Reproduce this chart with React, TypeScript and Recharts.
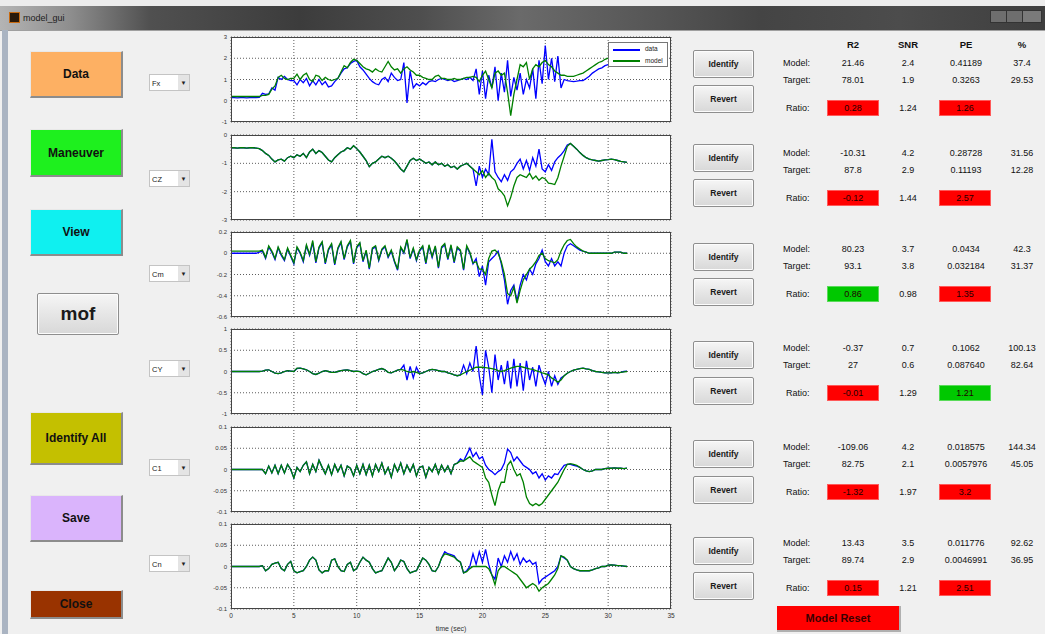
import { LineChart, Line, XAxis, YAxis, CartesianGrid } from 'recharts'

const FONT = '"Liberation Sans", Arial, sans-serif'

// sample grid (sec)
const step = 0.25
const time = Array.from({ length: 127 }, (_, i) => i * step)
const xTicks = [0, 5, 10, 15, 20, 25, 30, 35]

const channels = ['Fx', 'CZ', 'Cm', 'CY', 'C1', 'Cn']

const fxData = [
  0.15, 0.15, 0.14, 0.15, 0.15, 0.14, 0.15, 0.15,
  0.15, 0.16, 0.35, 0.3, 0.32, 0.6, 0.5, 1.1,
  1.0, 1.15, 1.0, 0.95, 0.95, 0.75, 1.0, 0.85,
  1.05, 0.7, 0.95, 0.75, 1.0, 0.75, 0.9, 0.65,
  0.7, 0.9, 1.05, 1.3, 1.5, 1.55, 1.75, 1.85,
  1.9, 1.6, 1.45, 1.25, 1.05, 0.9, 0.8, 0.75,
  1.0, 1.1, 0.9, 1.3, 1.1, 0.95, 1.0, 1.8,
  -0.1, 1.4, 0.6, 0.8, 0.7, 0.85, 0.75, 0.9,
  0.95, 0.9, 1.0, 1.05, 1.0, 0.95, 1.0, 0.9,
  0.95, 1.0, 1.05, 1.0, 1.1, 0.95, 1.5, 0.3,
  1.4, 0.1, 1.2, 0.6, 1.6, 0.0, 1.3, 0.4,
  1.9, 0.2, 1.1, 0.5, 1.3, 0.3, 1.0, 0.6,
  1.5, 0.1, 1.9, 0.8, 2.6, 1.0, 2.0, 0.9,
  2.1, 0.6, 1.0, 0.95, 0.92, 0.9, 0.92, 0.95,
  0.95, 1.05, 1.15, 1.3, 1.4, 1.5, 1.55, 1.65,
  1.7, 1.75, 1.75, 1.7, 1.7, 1.72, 1.74,
]
const fxModel = [
  0.2, 0.2, 0.2, 0.2, 0.2, 0.2, 0.2, 0.2,
  0.2, 0.2, 0.25, 0.25, 0.3, 0.55, 0.7, 1.1,
  1.2, 1.05, 1.0, 1.05, 1.05, 1.25, 1.0, 1.2,
  1.3, 1.0, 0.9, 1.2, 1.15, 0.95, 1.1, 1.0,
  0.95, 1.0, 1.05, 1.35, 1.65, 1.55, 1.8, 1.95,
  1.9, 1.75, 1.6, 1.5, 1.45, 1.35, 1.5, 1.4,
  1.35, 1.6, 1.85, 1.6, 1.45, 1.5, 1.3, 1.5,
  1.6, 1.45, 1.35, 1.2, 1.2, 1.1, 1.05, 1.0,
  1.0, 1.15, 1.2, 1.05, 1.05, 1.0, 1.0, 1.05,
  1.0, 1.0, 1.05, 1.1, 1.1, 1.15, 1.1, 0.9,
  1.2, 1.4, 1.0, 0.6, 1.3, 1.4, 1.2, 1.3,
  0.4, -0.7, 0.3, 1.0, 1.7, 1.6, 1.8, 1.0,
  1.5, 1.7, 1.6, 1.8, 1.9, 1.7, 1.6, 1.4,
  1.3, 1.2, 1.2, 1.15, 1.15, 1.15, 1.2, 1.25,
  1.3, 1.4, 1.5, 1.6, 1.7, 1.8, 1.85, 1.95,
  2.0, 2.02, 2.05, 2.07, 2.08, 2.1, 2.1,
]

const czData = [
  -0.45, -0.45, -0.46, -0.45, -0.45, -0.46, -0.45, -0.45,
  -0.46, -0.48, -0.55, -0.65, -0.72, -0.85, -0.95, -0.88,
  -0.85, -0.92, -0.8, -0.75, -0.8, -0.7, -0.75, -0.65,
  -0.8, -0.6, -0.5, -0.65, -0.55, -0.62, -0.75, -0.88,
  -0.95, -0.8, -0.7, -0.6, -0.55, -0.45, -0.5, -0.38,
  -0.48, -0.6, -0.75, -0.9, -1.12, -1.0, -0.95, -0.85,
  -0.75, -0.8, -0.75, -0.82, -0.92, -1.05, -1.2, -1.3,
  -1.1, -0.9, -0.82, -0.9, -0.85, -0.92, -1.0, -0.95,
  -1.05, -0.95, -1.05, -1.0, -1.1, -1.05, -1.15, -1.1,
  -1.2, -1.1, -1.05, -1.0, -1.1, -1.2, -1.8, -1.1,
  -1.5, -1.2, -1.4, -0.15, -1.3, -1.5, -1.65, -1.4,
  -1.6, -1.3, -1.2, -1.0, -0.85, -1.2, -0.9, -1.25,
  -0.8, -1.1, -0.5, -1.2, -1.3, -1.05, -1.25, -0.95,
  -0.8, -0.7, -0.55, -0.35, -0.3, -0.4, -0.5, -0.62,
  -0.72, -0.8, -0.85, -0.88, -0.9, -0.92, -0.9, -0.88,
  -0.87, -0.85, -0.87, -0.9, -0.93, -0.95, -0.97,
]
const czModel = [
  -0.45, -0.45, -0.46, -0.45, -0.45, -0.46, -0.45, -0.45,
  -0.46, -0.48, -0.55, -0.65, -0.72, -0.85, -0.95, -0.88,
  -0.85, -0.92, -0.8, -0.75, -0.8, -0.7, -0.75, -0.65,
  -0.8, -0.6, -0.5, -0.65, -0.55, -0.62, -0.75, -0.88,
  -0.95, -0.8, -0.7, -0.6, -0.55, -0.45, -0.5, -0.38,
  -0.48, -0.6, -0.75, -0.9, -1.12, -1.0, -0.95, -0.85,
  -0.75, -0.8, -0.75, -0.82, -0.92, -1.05, -1.2, -1.3,
  -1.1, -0.9, -0.82, -0.9, -0.85, -0.92, -1.0, -0.95,
  -1.05, -0.95, -1.05, -1.0, -1.1, -1.05, -1.15, -1.1,
  -1.2, -1.1, -1.05, -1.0, -1.1, -1.2, -1.3, -1.4,
  -1.25, -1.5, -1.35, -1.5, -1.6, -1.9, -2.0, -2.15,
  -2.5, -2.2, -1.8, -1.5, -1.4, -1.45, -1.5, -1.35,
  -1.55, -1.45, -1.6, -1.5, -1.55, -1.7, -1.72, -1.75,
  -1.5, -1.1, -0.75, -0.4, -0.3, -0.4, -0.5, -0.62,
  -0.72, -0.8, -0.85, -0.88, -0.9, -0.92, -0.9, -0.88,
  -0.87, -0.85, -0.87, -0.9, -0.93, -0.95, -0.97,
]

const cmData = [
  0.0, 0.0, 0.0, 0.0, 0.0, 0.0, 0.0, 0.0,
  0.0, 0.01, 0.02, -0.05, 0.06, 0.01, -0.06, 0.05,
  -0.02, -0.07, 0.04, -0.03, -0.1, 0.05, 0.0, -0.08,
  0.07, -0.02, 0.1, -0.09, 0.05, 0.1, -0.1, 0.03,
  0.08, -0.11, 0.04, 0.1, -0.06, 0.06, 0.11, -0.1,
  0.05, 0.09, -0.08, 0.02, -0.15, 0.04, 0.06, -0.07,
  0.03, 0.06, -0.04, 0.02, -0.08, -0.16, 0.05, 0.0,
  0.12, -0.05, 0.04, -0.07, 0.02, 0.06, -0.1, 0.07,
  -0.04, 0.06, -0.14, 0.05, 0.08, -0.06, 0.07, -0.09,
  0.05, 0.02, -0.16, 0.06, 0.0, -0.1, -0.05, -0.22,
  -0.12, -0.3, -0.08, -0.05, -0.02, 0.02, -0.1, -0.25,
  -0.48, -0.35, -0.3, -0.45, -0.3, -0.2, -0.25, -0.15,
  -0.2, -0.1, -0.05, 0.03, -0.08, -0.12, -0.05, -0.12,
  -0.08, -0.12, 0.0, 0.07, 0.09, 0.07, 0.05, 0.03,
  0.02, 0.01, 0.0, 0.0, 0.0, 0.0, 0.0, 0.0,
  0.0, 0.0, 0.01, 0.01, 0.01, 0.0, 0.0,
]
const cmModel = [
  0.02, 0.02, 0.02, 0.02, 0.02, 0.02, 0.02, 0.02,
  0.02, 0.02, 0.03, -0.04, 0.07, 0.02, -0.05, 0.06,
  -0.01, -0.06, 0.05, -0.02, -0.09, 0.06, 0.01, -0.07,
  0.08, -0.01, 0.12, -0.08, 0.06, 0.11, -0.09, 0.04,
  0.09, -0.1, 0.05, 0.11, -0.05, 0.07, 0.12, -0.09,
  0.06, 0.1, -0.07, 0.03, -0.14, 0.05, 0.07, -0.06,
  0.04, 0.07, -0.03, 0.03, -0.07, -0.15, 0.06, 0.01,
  0.13, -0.04, 0.05, -0.06, 0.03, 0.07, -0.09, 0.08,
  -0.03, 0.07, -0.13, 0.06, 0.09, -0.05, 0.08, -0.08,
  0.06, 0.03, -0.15, 0.07, 0.01, -0.09, -0.08, -0.15,
  -0.15, -0.2, -0.05, 0.02, 0.03, 0.0, -0.08, -0.2,
  -0.38, -0.4, -0.32, -0.47, -0.35, -0.25, -0.2, -0.15,
  -0.12, -0.08, -0.02, 0.0, -0.05, -0.07, -0.08, -0.09,
  -0.06, 0.02, 0.08, 0.12, 0.13, 0.09, 0.06, 0.04,
  0.02, 0.01, 0.0, 0.0, 0.0, 0.0, 0.0, 0.0,
  0.0, 0.0, 0.01, 0.01, 0.01, 0.0, 0.0,
]

const cyData = [
  0.0, 0.0, 0.0, 0.0, 0.0, 0.0, 0.0, 0.0,
  0.0, 0.0, 0.01, 0.03, 0.04, 0.0, -0.04, -0.05,
  -0.03, 0.0, 0.02, 0.01, 0.0, 0.07, 0.08, 0.06,
  0.04, 0.0, -0.05, -0.07, -0.04, 0.0, 0.02, 0.0,
  -0.02, -0.02, 0.0, 0.02, 0.03, 0.04, 0.02, 0.0,
  0.01, 0.0, -0.05, -0.08, -0.04, 0.0, 0.02, 0.05,
  0.07, 0.04, -0.02, -0.03, 0.0, 0.03, 0.05, 0.15,
  -0.2, 0.12, -0.15, 0.1, -0.05, -0.03, 0.0, 0.03,
  0.05, 0.04, 0.02, 0.0, 0.0, -0.03, -0.05, -0.08,
  -0.1, -0.08, 0.15, -0.05, 0.2, 0.0, 0.6, -0.1,
  -0.55, 0.5, 0.1, -0.5, 0.4, -0.2, 0.15, -0.3,
  0.25, -0.4, 0.3, -0.35, 0.2, -0.45, 0.25, -0.2,
  0.1, -0.35, 0.15, -0.1, -0.3, 0.0, -0.35, -0.1,
  -0.3, -0.15, -0.1, -0.04, 0.0, 0.03, 0.05, 0.07,
  0.08, 0.06, 0.05, 0.02, 0.0, -0.01, -0.02, -0.03,
  -0.03, -0.03, -0.02, -0.03, -0.02, 0.0, 0.01,
]
const cyModel = [
  0.0, 0.0, 0.0, 0.0, 0.0, 0.0, 0.0, 0.0,
  0.0, 0.0, 0.01, 0.03, 0.04, 0.0, -0.04, -0.05,
  -0.03, 0.0, 0.02, 0.01, 0.0, 0.08, 0.08, 0.06,
  0.04, 0.0, -0.05, -0.07, -0.04, 0.0, 0.02, 0.0,
  -0.02, -0.02, 0.0, 0.02, 0.03, 0.04, 0.02, 0.0,
  0.01, 0.0, -0.05, -0.08, -0.04, 0.0, 0.02, 0.05,
  0.07, 0.04, -0.02, -0.03, 0.0, 0.03, 0.05, 0.03,
  0.0, -0.02, 0.0, -0.02, -0.05, -0.03, 0.0, 0.03,
  0.05, 0.04, 0.02, 0.0, 0.0, -0.03, -0.05, -0.08,
  -0.1, -0.08, -0.04, 0.0, 0.03, 0.07, 0.1, 0.1,
  0.1, 0.09, 0.08, 0.07, 0.05, 0.02, 0.0, 0.02,
  0.05, 0.08, 0.1, 0.12, 0.12, 0.1, 0.08, 0.06,
  0.05, 0.02, 0.0, -0.03, -0.05, -0.08, -0.15, -0.2,
  -0.25, -0.2, -0.1, -0.04, 0.0, 0.03, 0.05, 0.07,
  0.08, 0.06, 0.05, 0.02, 0.0, -0.01, -0.02, -0.03,
  -0.03, -0.03, -0.02, -0.03, -0.02, -0.01, 0.0,
]

const c1Data = [
  0.0, 0.0, 0.0, 0.0, 0.0, 0.0, 0.0, 0.0,
  0.0, 0.0, 0.0, -0.01, 0.008, -0.008, 0.01, -0.01,
  0.01, -0.008, 0.012, 0.0, -0.02, 0.005, -0.005, 0.01,
  0.018, -0.01, 0.012, -0.005, 0.022, 0.005, -0.01, 0.01,
  -0.012, 0.012, -0.005, 0.01, -0.015, 0.008, 0.003, -0.015,
  0.01, -0.01, 0.012, -0.012, 0.01, -0.015, 0.012, -0.005,
  0.015, -0.01, 0.005, -0.018, 0.012, -0.005, 0.015, -0.01,
  0.01, -0.005, 0.012, -0.015, 0.005, 0.008, -0.018, 0.005,
  -0.005, 0.012, -0.01, 0.01, -0.005, 0.008, -0.01, 0.012,
  0.015, 0.025, 0.02, 0.035, 0.05, 0.03, 0.04, 0.025,
  0.03, 0.01, 0.0, -0.005, -0.012, -0.005, 0.0, 0.015,
  0.048, 0.04, 0.02, 0.03, 0.02, 0.01, 0.005, 0.0,
  -0.01, -0.005, -0.02, -0.01, -0.025, -0.015, -0.02, -0.01,
  -0.012, 0.0, 0.01, 0.012, 0.012, 0.01, 0.008, 0.005,
  0.0, -0.003, -0.005, -0.003, 0.0, 0.0, 0.0, 0.002,
  0.003, 0.003, 0.004, 0.003, 0.003, 0.002, 0.003,
]
const c1Model = [
  0.0, 0.0, 0.0, 0.0, 0.0, 0.0, 0.0, 0.0,
  0.0, 0.0, 0.0, -0.01, 0.008, -0.008, 0.01, -0.01,
  0.01, -0.008, 0.012, 0.0, -0.02, 0.005, -0.005, 0.01,
  0.018, -0.01, 0.012, -0.005, 0.022, 0.005, -0.01, 0.01,
  -0.012, 0.012, -0.005, 0.01, -0.015, 0.008, 0.003, -0.015,
  0.01, -0.01, 0.012, -0.012, 0.01, -0.015, 0.012, -0.005,
  0.015, -0.01, 0.005, -0.018, 0.012, -0.005, 0.015, -0.01,
  0.01, -0.005, 0.012, -0.015, 0.005, 0.008, -0.018, 0.005,
  -0.005, 0.012, -0.01, 0.01, -0.005, 0.008, -0.01, 0.012,
  0.015, 0.02, 0.02, 0.025, 0.03, 0.02, 0.015, 0.01,
  0.005, -0.02, -0.03, -0.06, -0.085, -0.05, -0.03, -0.03,
  0.01, 0.02, 0.0, -0.015, -0.01, -0.03, -0.065, -0.08,
  -0.085, -0.08, -0.085, -0.08, -0.07, -0.06, -0.05, -0.04,
  -0.03, -0.015, 0.0, 0.012, 0.014, 0.012, 0.01, 0.005,
  0.0, -0.003, -0.005, -0.003, 0.0, 0.0, 0.0, 0.002,
  0.003, 0.003, 0.004, 0.003, 0.003, 0.002, 0.003,
]

const cnData = [
  0.0, 0.0, 0.0, 0.0, 0.0, 0.0, 0.0, 0.0,
  0.0, 0.0, 0.002, -0.01, -0.005, 0.005, 0.008, 0.01,
  -0.005, -0.01, 0.005, 0.012, -0.01, -0.015, -0.012, -0.01,
  0.0, 0.015, 0.022, 0.015, -0.008, -0.015, -0.01, -0.01,
  0.015, 0.018, 0.0, -0.01, -0.012, 0.005, 0.01, -0.01,
  -0.005, 0.01, 0.022, 0.015, 0.01, -0.005, -0.015, -0.012,
  -0.01, 0.005, 0.02, 0.01, -0.01, 0.0, 0.015, 0.012,
  -0.005, -0.015, -0.012, -0.01, 0.005, 0.02, 0.015, 0.005,
  -0.01, -0.012, 0.0, 0.02, 0.035, 0.03, 0.028, 0.025,
  0.015, 0.01, -0.015, -0.01, 0.0, 0.03, 0.005, 0.035,
  0.01, 0.04, 0.005, -0.02, -0.03, 0.02, 0.0, 0.025,
  0.01, 0.035, 0.015, 0.03, 0.005, 0.02, 0.01, 0.015,
  0.005, 0.01, -0.04, -0.03, -0.025, -0.02, -0.015, -0.01,
  0.0, 0.025, 0.02, 0.015, 0.0, -0.005, -0.008, -0.01,
  -0.01, -0.01, -0.01, -0.008, -0.005, -0.003, 0.0, 0.0,
  0.003, 0.004, 0.003, 0.002, 0.002, 0.001, 0.0,
]
const cnModel = [
  0.0, 0.0, 0.0, 0.0, 0.0, 0.0, 0.0, 0.0,
  0.0, 0.0, 0.002, -0.01, -0.005, 0.005, 0.008, 0.01,
  -0.005, -0.01, 0.005, 0.012, -0.01, -0.015, -0.012, -0.01,
  0.0, 0.015, 0.022, 0.015, -0.008, -0.015, -0.01, -0.01,
  0.015, 0.018, 0.0, -0.01, -0.012, 0.005, 0.01, -0.01,
  -0.005, 0.01, 0.022, 0.015, 0.01, -0.005, -0.015, -0.012,
  -0.01, 0.005, 0.02, 0.01, -0.01, 0.0, 0.015, 0.012,
  -0.005, -0.015, -0.012, -0.01, 0.005, 0.02, 0.015, 0.005,
  -0.01, -0.012, 0.0, 0.02, 0.03, 0.028, 0.025, 0.022,
  0.015, 0.01, -0.015, -0.012, -0.005, 0.0, 0.0, 0.0,
  0.0, 0.0, -0.005, -0.02, -0.043, -0.01, 0.0, 0.0,
  -0.005, -0.01, -0.015, -0.02, -0.03, -0.04, -0.05, -0.045,
  -0.04, -0.045, -0.058, -0.05, -0.045, -0.04, -0.03, -0.02,
  -0.005, 0.025, 0.022, 0.015, 0.0, -0.005, -0.008, -0.01,
  -0.01, -0.01, -0.01, -0.008, -0.005, -0.003, 0.0, 0.0,
  0.003, 0.004, 0.003, 0.002, 0.002, 0.001, 0.0,
]

const dataSeries = [fxData, czData, cmData, cyData, c1Data, cnData]
const modelSeries = [fxModel, czModel, cmModel, cyModel, c1Model, cnModel]

const yDomains = [[-1, 3], [-3, 0], [-0.6, 0.2], [-1, 1], [-0.1, 0.1], [-0.1, 0.1]]
const yTicks = [
  [-1, 0, 1, 2, 3],
  [-3, -2, -1, 0],
  [-0.6, -0.4, -0.2, 0, 0.2],
  [-1, -0.5, 0, 0.5, 1],
  [-0.1, -0.05, 0, 0.05, 0.1],
  [-0.1, -0.05, 0, 0.05, 0.1],
]

// fit statistics table
const statHeaders = ['R2', 'SNR', 'PE', '%']
const modelR2 = ['21.46', '-10.31', '80.23', '-0.37', '-109.06', '13.43']
const modelSNR = ['2.4', '4.2', '3.7', '0.7', '4.2', '3.5']
const modelPE = ['0.41189', '0.28728', '0.0434', '0.1062', '0.018575', '0.011776']
const modelPct = ['37.4', '31.56', '42.3', '100.13', '144.34', '92.62']
const targetR2 = ['78.01', '87.8', '93.1', '27', '82.75', '89.74']
const targetSNR = ['1.9', '2.9', '3.8', '0.6', '2.1', '2.9']
const targetPE = ['0.3263', '0.11193', '0.032184', '0.087640', '0.0057976', '0.0046991']
const targetPct = ['29.53', '12.28', '31.37', '82.64', '45.05', '36.95']
const ratioR2 = ['0.28', '-0.12', '0.86', '-0.01', '-1.32', '0.15']
const ratioSNR = ['1.24', '1.44', '0.98', '1.29', '1.97', '1.21']
const ratioPE = ['1.26', '2.57', '1.35', '1.21', '3.2', '2.51']
const r2Pass = [false, false, true, false, false, false]
const pePass = [false, false, false, true, false, false]

// layout (px)
const plotTops = [37, 135, 232, 329, 427, 524]
const PLOT_H = 85
const selectTops = [74, 170, 265, 360, 459, 555]
const identifyTops = [50, 144, 243, 341, 440, 537]
const revertTops = [85, 179, 278, 377, 476, 572]
const statTops = [63, 153, 249, 348, 447, 543]
const statCols = [853, 908, 966, 1022]

const leftButtons = [
  { label: 'Data', bg: '#fdb063', top: 51, h: 47 },
  { label: 'Maneuver', bg: '#1ef01e', top: 129, h: 48 },
  { label: 'View', bg: '#0ff0f0', top: 209, h: 47 },
  { label: 'Identify All', bg: '#c4c000', top: 412, h: 53 },
  { label: 'Save', bg: '#dab4fc', top: 495, h: 47 },
  { label: 'Close', bg: '#993300', top: 590, h: 29 },
]

function Txt({ x, y, children, align = 'center', size = 9, bold = false, color = '#111' }: any) {
  const tx = align === 'center' ? '-50%' : align === 'right' ? '-100%' : '0'
  return (
    <div
      style={{
        position: 'absolute',
        left: x,
        top: y,
        transform: `translate(${tx}, -50%)`,
        fontSize: size,
        fontWeight: bold ? 700 : 400,
        color,
        whiteSpace: 'nowrap',
        lineHeight: 1,
      }}
    >
      {children}
    </div>
  )
}

function GrayButton({ left, top, w, h, label, size = 8.5 }: any) {
  return (
    <div
      style={{
        position: 'absolute',
        left,
        top,
        width: w,
        height: h,
        boxSizing: 'border-box',
        border: '1px solid #8e8e8e',
        borderRadius: 2,
        background: 'linear-gradient(#f6f6f6, #e6e6e6 50%, #d8d8d8)',
        boxShadow: 'inset 0 0 0 1px #fcfcfc',
        display: 'flex',
        alignItems: 'center',
        justifyContent: 'center',
        fontSize: size,
        fontWeight: 700,
        color: '#1a1a1a',
      }}
    >
      {label}
    </div>
  )
}

function Plot({ idx }: { idx: number }) {
  const rows = time.map((t, i) => ({ t, data: dataSeries[idx][i], model: modelSeries[idx][i] }))
  const last = idx === 5
  const mt = 5
  const xh = last ? 16 : 6
  const w = 482
  const h = PLOT_H + mt + xh
  return (
    <div style={{ position: 'absolute', left: 200, top: plotTops[idx] - mt, width: w, height: h }}>
      <div
        style={{
          position: 'absolute',
          left: 31,
          top: mt,
          width: 440,
          height: PLOT_H,
          background: '#fff',
        }}
      />
      <LineChart
        width={w}
        height={h}
        data={rows}
        margin={{ top: mt, right: w - 471, bottom: 0, left: 0 }}
        style={{ position: 'absolute', left: 0, top: 0 }}
      >
        <CartesianGrid stroke="#333" strokeDasharray="1 2" strokeWidth={0.8} />
        <XAxis
          dataKey="t"
          type="number"
          domain={[0, 35]}
          ticks={xTicks}
          interval={0}
          height={xh}
          tick={{ fontSize: last ? 6.5 : 1, fill: last ? '#333' : 'none', fontFamily: FONT }}
          tickFormatter={(v: number) => (last ? String(v) : '')}
          tickLine={false}
          axisLine={false}
          tickSize={2}
          tickMargin={2}
        />
        <YAxis
          type="number"
          domain={yDomains[idx]}
          ticks={yTicks[idx]}
          interval={0}
          allowDataOverflow
          width={31}
          tick={{ fontSize: 6, fill: '#333', fontFamily: FONT }}
          tickLine={false}
          axisLine={false}
          tickSize={2}
          tickMargin={2}
        />
        <Line type="linear" dataKey="data" stroke="#0000ff" strokeWidth={1.3} dot={false} isAnimationActive={false} />
        <Line type="linear" dataKey="model" stroke="#008000" strokeWidth={1.3} dot={false} isAnimationActive={false} />
      </LineChart>
      <div
        style={{
          position: 'absolute',
          left: 31,
          top: mt,
          width: 440,
          height: PLOT_H,
          boxSizing: 'border-box',
          border: '1px solid #444',
          pointerEvents: 'none',
        }}
      />
    </div>
  )
}

function StatBlock({ idx }: { idx: number }) {
  const y = statTops[idx]
  const ty = y + 17
  const ry = y + 45
  const red = '#ff0000'
  const green = '#00c800'
  const box = (x: number, pass: boolean, txt: string) => (
    <div
      style={{
        position: 'absolute',
        left: x,
        top: ry - 8,
        width: 52,
        height: 16,
        background: pass ? green : red,
        boxShadow: 'inset 0 0 0 1px rgba(255,255,255,0.35)',
        display: 'flex',
        alignItems: 'center',
        justifyContent: 'center',
        fontSize: 9,
        color: '#200',
      }}
    >
      {txt}
    </div>
  )
  return (
    <>
      <Txt x={783} y={y} align="left">Model:</Txt>
      <Txt x={statCols[0]} y={y}>{modelR2[idx]}</Txt>
      <Txt x={statCols[1]} y={y}>{modelSNR[idx]}</Txt>
      <Txt x={statCols[2]} y={y}>{modelPE[idx]}</Txt>
      <Txt x={statCols[3]} y={y}>{modelPct[idx]}</Txt>
      <Txt x={783} y={ty} align="left">Target:</Txt>
      <Txt x={statCols[0]} y={ty}>{targetR2[idx]}</Txt>
      <Txt x={statCols[1]} y={ty}>{targetSNR[idx]}</Txt>
      <Txt x={statCols[2]} y={ty}>{targetPE[idx]}</Txt>
      <Txt x={statCols[3]} y={ty}>{targetPct[idx]}</Txt>
      <Txt x={786} y={ry} align="left">Ratio:</Txt>
      {box(827, r2Pass[idx], ratioR2[idx])}
      <Txt x={statCols[1]} y={ry}>{ratioSNR[idx]}</Txt>
      {box(939, pePass[idx], ratioPE[idx])}
    </>
  )
}

export default function App() {
  return (
    <div
      style={{
        position: 'fixed',
        left: 0,
        top: 0,
        width: 1045,
        height: 634,
        overflow: 'hidden',
        background: '#f0f0f0',
        fontFamily: FONT,
      }}
    >
      {/* window chrome */}
      <div style={{ position: 'absolute', left: 0, top: 0, width: 1045, height: 6, background: '#ececec' }} />
      <div
        style={{
          position: 'absolute',
          left: 0,
          top: 6,
          width: 1045,
          height: 24,
          background:
            'linear-gradient(90deg, #b4b4b4 0px, #8e8e8e 70px, #505050 150px, #3c3c3c 300px, #4e4e4e 420px, #6a6a6a 520px, #585858 640px, #444 760px, #4c4c4c 900px, #3e3e3e 1045px)',
        }}
      />
      <div style={{ position: 'absolute', left: 9, top: 12, width: 9, height: 9, background: '#2a1a0a', border: '1px solid #c86a10' }} />
      <Txt x={23} y={18} align="left" size={9} color="#202020">model_gui</Txt>
      <div style={{ position: 'absolute', left: 990, top: 10, width: 15, height: 11, background: '#6e6e6e', border: '1px solid #333' }} />
      <div style={{ position: 'absolute', left: 1006, top: 10, width: 15, height: 11, background: '#6e6e6e', border: '1px solid #333' }} />
      <div style={{ position: 'absolute', left: 1022, top: 10, width: 18, height: 11, background: '#7a7a7a', border: '1px solid #333' }} />
      <div style={{ position: 'absolute', left: 0, top: 30, width: 1045, height: 1, background: '#a0a0a0' }} />
      <div style={{ position: 'absolute', left: 2, top: 30, width: 6, height: 604, background: '#aab4c2' }} />

      {/* left action buttons */}
      {leftButtons.map((b) => (
        <div
          key={b.label}
          style={{
            position: 'absolute',
            left: 30,
            top: b.top,
            width: 93,
            height: b.h,
            boxSizing: 'border-box',
            background: b.bg,
            borderRight: '2px solid #8c8c8c',
            borderBottom: '2px solid #8c8c8c',
            borderTop: '1px solid #e8e8e8',
            borderLeft: '1px solid #e8e8e8',
            display: 'flex',
            alignItems: 'center',
            justifyContent: 'center',
            fontSize: 12,
            fontWeight: 700,
            color: '#111',
          }}
        >
          {b.label}
        </div>
      ))}
      <GrayButton left={37} top={293} w={82} h={42} label="mof" size={19} />

      {/* channel selectors */}
      {channels.map((c, i) => (
        <div
          key={c}
          style={{
            position: 'absolute',
            left: 149,
            top: selectTops[i],
            width: 41,
            height: 17,
            boxSizing: 'border-box',
            background: '#fff',
            border: '1px solid #c4c4c4',
            fontSize: 7.5,
            color: '#222',
          }}
        >
          <span style={{ position: 'absolute', left: 2, top: 4 }}>{c}</span>
          <div
            style={{
              position: 'absolute',
              right: 0,
              top: 0,
              width: 11,
              height: 15,
              background: '#e4e4e4',
              fontSize: 6,
              display: 'flex',
              alignItems: 'center',
              justifyContent: 'center',
              color: '#222',
            }}
          >
            ▼
          </div>
        </div>
      ))}

      {/* plots */}
      {channels.map((c, i) => (
        <Plot key={c} idx={i} />
      ))}

      {/* legend of first plot */}
      <div
        style={{
          position: 'absolute',
          left: 608,
          top: 42,
          width: 60,
          height: 25,
          boxSizing: 'border-box',
          background: '#fff',
          border: '1px solid #777',
          fontSize: 6.5,
          color: '#222',
        }}
      >
        <div style={{ position: 'absolute', left: 4, top: 6, width: 27, height: 2, background: '#0000ff' }} />
        <span style={{ position: 'absolute', left: 36, top: 2 }}>data</span>
        <div style={{ position: 'absolute', left: 4, top: 17, width: 27, height: 2, background: '#008000' }} />
        <span style={{ position: 'absolute', left: 36, top: 14 }}>model</span>
      </div>
      <Txt x={451} y={628} size={7} color="#333">time (sec)</Txt>

      {/* identify / revert buttons */}
      {identifyTops.map((t, i) => (
        <GrayButton key={'id' + i} left={693} top={t} w={61} h={28} label="Identify" />
      ))}
      {revertTops.map((t, i) => (
        <GrayButton key={'rv' + i} left={693} top={t} w={61} h={28} label="Revert" />
      ))}

      {/* statistics */}
      {statHeaders.map((h, i) => (
        <Txt key={h} x={statCols[i]} y={45} bold size={9.5}>
          {h}
        </Txt>
      ))}
      {channels.map((c, i) => (
        <StatBlock key={c} idx={i} />
      ))}
      <div
        style={{
          position: 'absolute',
          left: 777,
          top: 606,
          width: 124,
          height: 26,
          boxSizing: 'border-box',
          background: '#ff0000',
          borderRight: '2px solid #b0b0b0',
          borderBottom: '2px solid #b0b0b0',
          display: 'flex',
          alignItems: 'center',
          justifyContent: 'center',
          fontSize: 11,
          fontWeight: 700,
          color: '#3a0000',
        }}
      >
        Model Reset
      </div>
    </div>
  )
}
